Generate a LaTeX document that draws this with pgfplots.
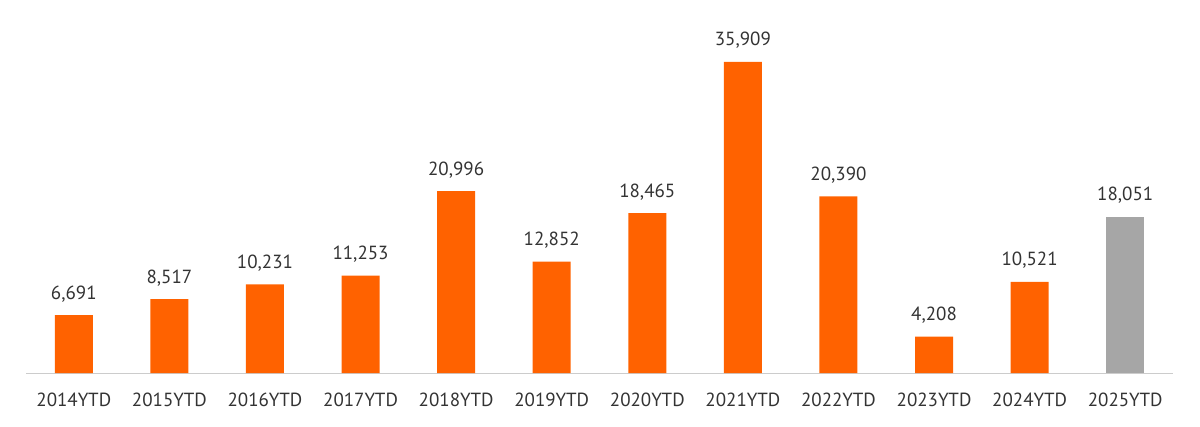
\documentclass[border=0pt]{standalone}
\usepackage{fontspec}
\setmainfont{PT Sans}
\usepackage{pgfplots}
\pgfplotsset{compat=1.18}
\definecolor{ingorange}{HTML}{FF6200}
\definecolor{barGrey}{HTML}{A6A6A6}
\definecolor{axisGrey}{HTML}{CCCCCC}
\definecolor{txt}{HTML}{333333}
\begin{document}
\begin{tikzpicture}
\path[use as bounding box] (-26pt,-53pt) rectangle (1174pt,373pt);
\begin{axis}[
  scale only axis,
  width=1147pt, height=373pt,
  xmin=-0.5, xmax=11.5,
  ymin=0, ymax=43067,
  axis x line=bottom,
  axis y line=none,
  axis line style={axisGrey, line width=1pt, -},
  xtick={0,...,11},
  xticklabels={2014YTD,2015YTD,2016YTD,2017YTD,2018YTD,2019YTD,2020YTD,2021YTD,2022YTD,2023YTD,2024YTD,2025YTD},
  major tick length=0pt,
  xticklabel style={font=\fontsize{19}{22}\selectfont, text=txt, anchor=base, inner sep=0pt, yshift=-33pt},
  ybar, bar width=38pt, bar shift=0pt,
  nodes near coords,
  nodes near coords style={font=\fontsize{19}{22}\selectfont, text=txt, anchor=base, inner sep=0pt, yshift=16pt,
    /pgf/number format/.cd, fixed, 1000 sep={,}, assume math mode=true},
  /pgf/number format/assume math mode=true,
  clip=false,
]
\addplot[fill=ingorange, draw=none] coordinates {
(0,6691) (1,8517) (2,10231) (3,11253) (4,20996) (5,12852) (6,18465) (7,35909) (8,20390) (9,4208) (10,10521)};
\addplot[fill=barGrey, draw=none] coordinates {(11,18051)};
\end{axis}
\end{tikzpicture}
\end{document}
